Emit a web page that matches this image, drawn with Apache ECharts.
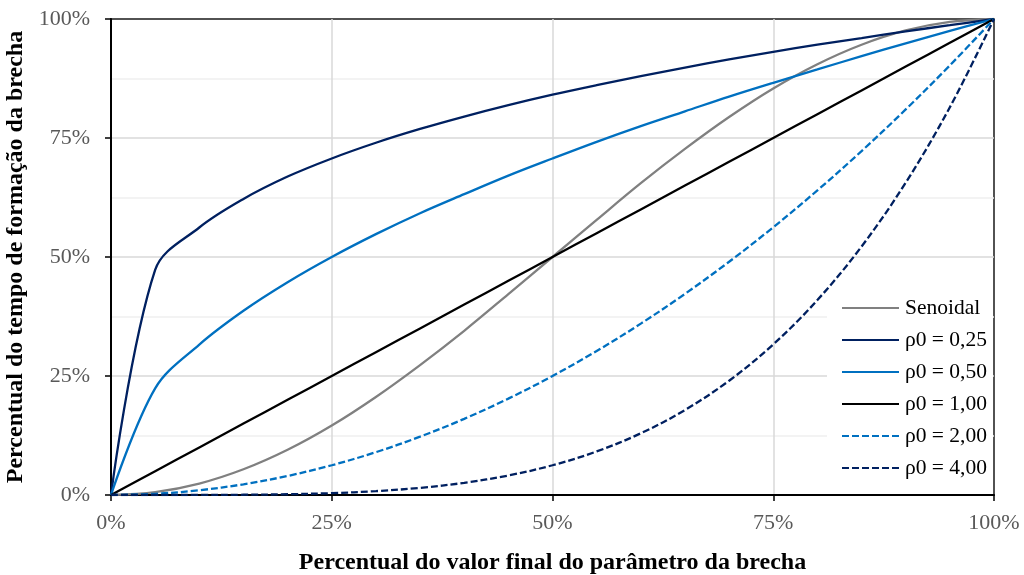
<!DOCTYPE html>
<html>
<head>
<meta charset="utf-8">
<script src="https://cdn.jsdelivr.net/npm/echarts@6/dist/echarts.min.js"></script>
<style>
  html, body { margin: 0; padding: 0; background: #fff; }
  #chart { width: 1024px; height: 575px; }
</style>
</head>
<body>
<div id="chart"></div>
<script>
// Fraction of the final breach parameter (%), sampled every 5 %
const xPercent = [0, 5, 10, 15, 20, 25, 30, 35, 40, 45, 50, 55, 60, 65, 70, 75, 80, 85, 90, 95, 100];

// Fraction of breach formation time (%) for each progression law
const senoidal = [0, 0.6, 2.4, 5.4, 9.5, 14.6, 20.6, 27.3, 34.5, 42.2, 50, 57.8, 65.5, 72.7, 79.4, 85.4, 90.5, 94.6, 97.6, 99.4, 100];
const rho025   = [0, 47.3, 56.2, 62.2, 66.9, 70.7, 74.0, 76.9, 79.5, 81.9, 84.1, 86.1, 88.0, 89.8, 91.5, 93.1, 94.6, 96.0, 97.4, 98.7, 100];
const rho050   = [0, 22.4, 31.6, 38.7, 44.7, 50.0, 54.8, 59.2, 63.2, 67.1, 70.7, 74.2, 77.5, 80.6, 83.7, 86.6, 89.4, 92.2, 94.9, 97.5, 100];
const rho100   = [0, 5, 10, 15, 20, 25, 30, 35, 40, 45, 50, 55, 60, 65, 70, 75, 80, 85, 90, 95, 100];
const rho200   = [0, 0.25, 1.0, 2.25, 4.0, 6.25, 9.0, 12.25, 16.0, 20.25, 25.0, 30.25, 36.0, 42.25, 49.0, 56.25, 64.0, 72.25, 81.0, 90.25, 100];
const rho400   = [0, 0.0, 0.01, 0.05, 0.16, 0.39, 0.81, 1.5, 2.56, 4.1, 6.25, 9.15, 12.96, 17.85, 24.01, 31.64, 40.96, 52.2, 65.61, 81.45, 100];

const seriesNames = ['Senoidal', 'ρ0 = 0,25', 'ρ0 = 0,50', 'ρ0 = 1,00', 'ρ0 = 2,00', 'ρ0 = 4,00'];
const seriesValues = [senoidal, rho025, rho050, rho100, rho200, rho400];
const seriesColors = ['#808080', '#002060', '#0070C0', '#000000', '#0070C0', '#002060'];
const seriesDashed = [false, false, false, false, true, true];

const axisTicks = [0, 25, 50, 75, 100];

const serif = '"Liberation Serif", "Times New Roman", serif';

const series = seriesValues.map((vals, i) => ({
  name: seriesNames[i],
  type: 'line',
  smooth: 0.35,
  symbol: 'none',
  showSymbol: false,
  data: xPercent.map((x, j) => [x, vals[j]]),
  lineStyle: {
    color: seriesColors[i],
    width: 2.3,
    type: seriesDashed[i] ? [7, 3] : 'solid'
  },
  itemStyle: { color: seriesColors[i] },
  z: 3
}));

const chart = echarts.init(document.getElementById('chart'), null, { renderer: 'canvas' });
chart.setOption({
  animation: false,
  backgroundColor: '#ffffff',
  grid: {
    left: 111, right: 30, top: 19, bottom: 80,
    outerBoundsMode: 'none',
    containLabel: false,
    show: true,
    borderColor: '#1a1a1a',
    borderWidth: 1.5,
    backgroundColor: 'transparent'
  },
  legend: {
    data: seriesNames,
    orient: 'vertical',
    left: 827,
    top: 293,
    padding: [4, 6, 11, 14],
    backgroundColor: '#ffffff',
    itemWidth: 57,
    itemHeight: 14,
    itemGap: 10,
    itemStyle: { color: 'transparent', borderColor: 'transparent', borderWidth: 0 },
    textStyle: {
      fontFamily: serif,
      fontSize: 21.5,
      lineHeight: 22,
      color: '#000000',
      padding: [0, 0, 0, 1]
    },
    z: 4
  },
  xAxis: {
    type: 'value',
    min: 0, max: 100, interval: 25,
    name: 'Percentual do valor final do parâmetro da brecha',
    nameLocation: 'middle',
    nameGap: 56,
    nameTextStyle: { fontFamily: serif, fontSize: 24, fontWeight: 'bold', color: '#000' },
    axisLine: { show: true, lineStyle: { color: '#000', width: 2 } },
    axisTick: { show: true, length: 6, lineStyle: { color: '#000', width: 1.5 } },
    axisLabel: {
      formatter: v => axisTicks.includes(v) ? v + '%' : '',
      fontFamily: serif, fontSize: 22, color: '#595959', margin: 17
    },
    splitLine: { show: true, showMinLine: false, showMaxLine: false, lineStyle: { color: '#d9d9d9', width: 1.5 } }
  },
  yAxis: {
    type: 'value',
    min: 0, max: 100, interval: 25,
    name: 'Percentual do tempo de formação da brecha',
    nameLocation: 'middle',
    nameGap: 79,
    nameTextStyle: { fontFamily: serif, fontSize: 24, fontWeight: 'bold', color: '#000' },
    axisLine: { show: true, lineStyle: { color: '#000', width: 2 } },
    axisTick: { show: true, length: 6, lineStyle: { color: '#000', width: 1.5 } },
    axisLabel: {
      formatter: v => axisTicks.includes(v) ? v + '%' : '',
      fontFamily: serif, fontSize: 22, color: '#595959', margin: 21
    },
    splitLine: { show: true, showMinLine: false, showMaxLine: false, lineStyle: { color: '#d9d9d9', width: 1.5 } },
    minorTick: { show: false, splitNumber: 2 },
    minorSplitLine: { show: true, lineStyle: { color: '#f0f0f0', width: 1.5 } }
  },
  series: series
});
</script>
</body>
</html>
